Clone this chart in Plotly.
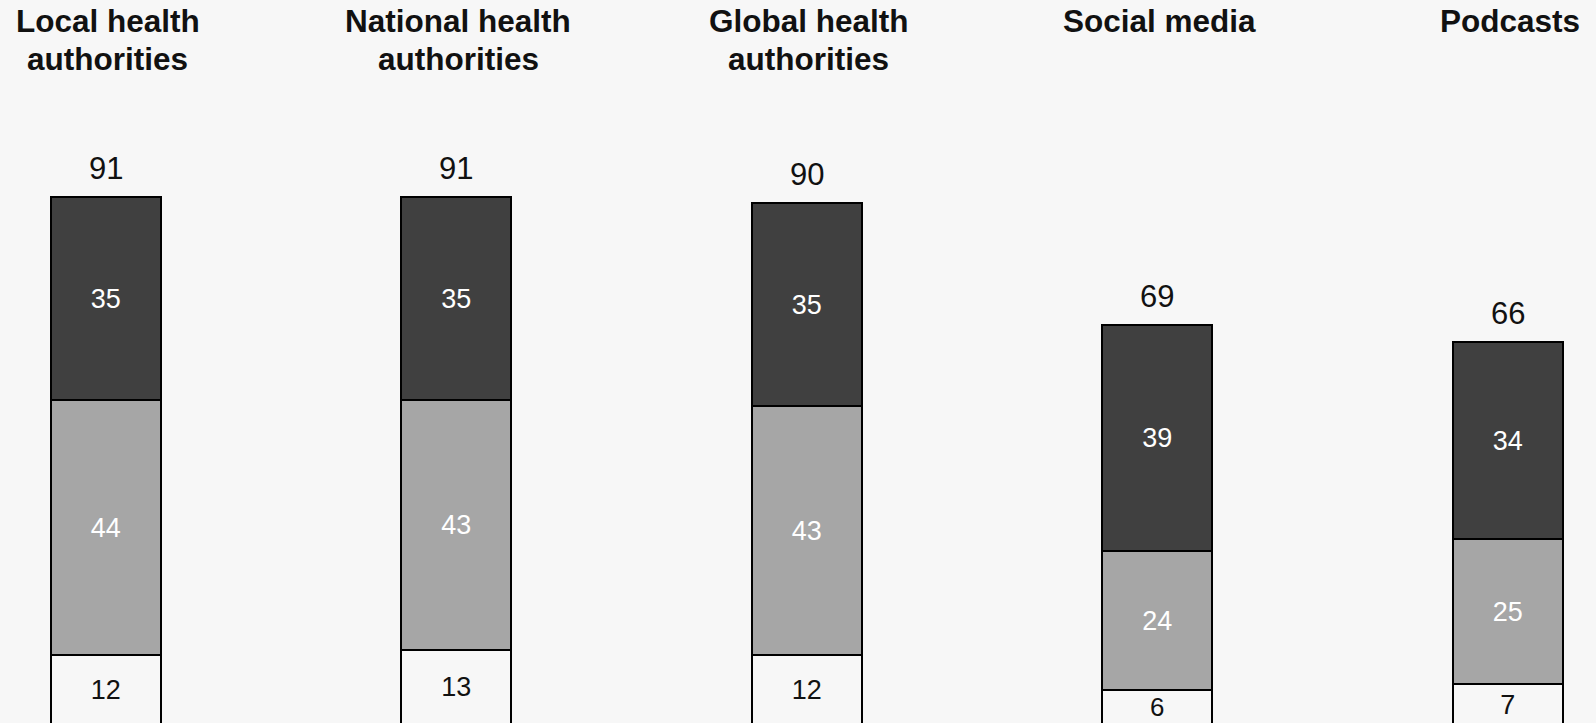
import plotly.graph_objects as go

categories = ["Local health<br>authorities", "National health<br>authorities",
              "Global health<br>authorities", "Social media", "Podcasts"]
low_vals = [12, 13, 12, 6, 7]
mid_vals = [44, 43, 43, 24, 25]
high_vals = [35, 35, 35, 39, 34]
totals = [91, 91, 90, 69, 66]

x = list(range(len(categories)))
BG = "#f7f7f7"
bar_w = 0.314
FONT = "Liberation Sans, Arial, sans-serif"

fig = go.Figure()
series = [
    (low_vals, BG, "#111111"),
    (mid_vals, "#a6a6a6", "#ffffff"),
    (high_vals, "#404040", "#ffffff"),
]
for vals, color, tcolor in series:
    fig.add_trace(go.Bar(
        x=x, y=vals, width=bar_w,
        marker=dict(color=color, line=dict(color="#000000", width=2)),
        text=[str(v) for v in vals], textposition="inside",
        insidetextanchor="middle", textangle=0,
        textfont=dict(family=FONT, size=27, color=tcolor),
        showlegend=False, hoverinfo="skip",
    ))

annotations = []
for i, (cat, tot) in enumerate(zip(categories, totals)):
    annotations.append(dict(
        x=i, y=tot, xref="x", yref="y", text=str(tot), showarrow=False,
        yanchor="bottom", yshift=9,
        font=dict(family=FONT, size=31, color="#111111"),
    ))
    for j, line in enumerate(cat.split("<br>")):
        annotations.append(dict(
            x=i, y=1, xref="x", yref="paper", text="<b>" + line + "</b>", showarrow=False,
            yanchor="top", yshift=-1 - 38 * j, xshift=2,
            font=dict(family=FONT, size=31.5, color="#111111"),
        ))

fig.update_layout(
    width=1596, height=723,
    margin=dict(l=0, r=0, t=0, b=0),
    paper_bgcolor=BG, plot_bgcolor=BG,
    barmode="stack",
    xaxis=dict(range=[-0.302, 4.252], visible=False, fixedrange=True),
    yaxis=dict(range=[0.345, 125.0], visible=False, fixedrange=True),
    annotations=annotations,
)

fig.write_html("out.html")
